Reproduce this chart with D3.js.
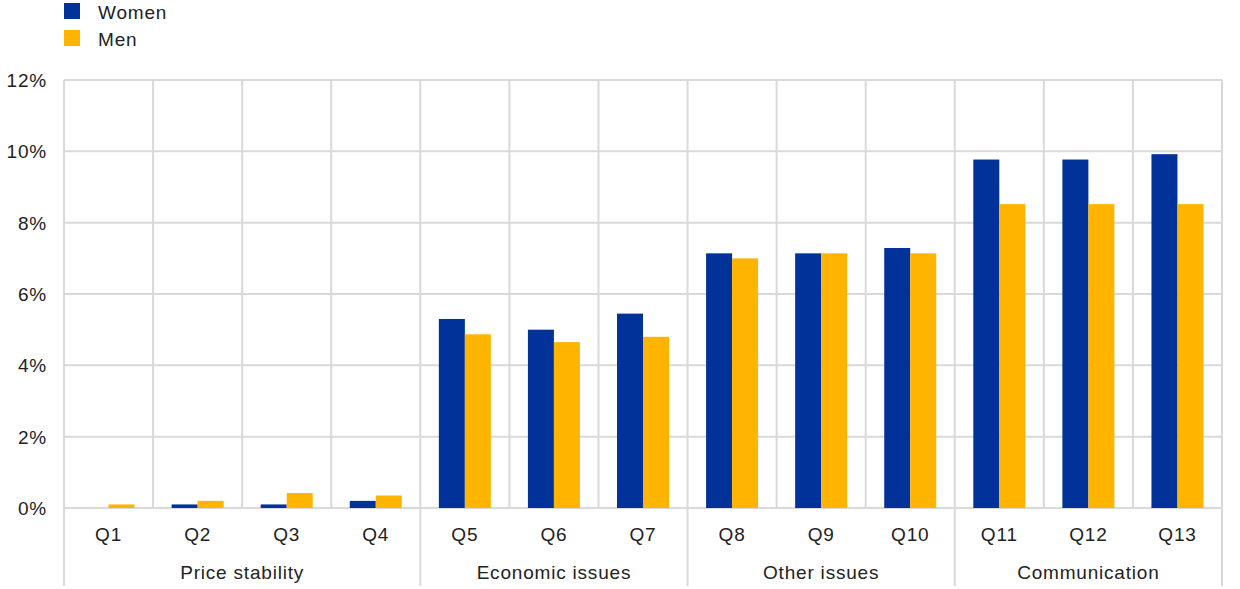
<!DOCTYPE html>
<html><head><meta charset="utf-8">
<script src="https://cdn.jsdelivr.net/npm/d3@7"></script>
<style>body{margin:0;background:#fff}text{font-family:"Liberation Sans",Arial,sans-serif;fill:#222;letter-spacing:0.8px}</style>
</head><body><svg id="c" width="1240" height="589"></svg>
<script>
const categories = ["Q1","Q2","Q3","Q4","Q5","Q6","Q7","Q8","Q9","Q10","Q11","Q12","Q13"];
const groups = [
  {name:"Price stability", from:"Q1", to:"Q4"},
  {name:"Economic issues", from:"Q5", to:"Q7"},
  {name:"Other issues", from:"Q8", to:"Q10"},
  {name:"Communication", from:"Q11", to:"Q13"}
];
const women = [0, 0.1, 0.1, 0.2, 5.3, 5.0, 5.45, 7.14, 7.14, 7.29, 9.77, 9.77, 9.92];
const men   = [0.1, 0.2, 0.42, 0.35, 4.87, 4.65, 4.8, 7.0, 7.14, 7.14, 8.52, 8.52, 8.52];
const yTicks = [0, 2, 4, 6, 8, 10, 12];
const seriesNames = ["Women","Men"];
const colors = ["#003299","#FFB400"];

const svg = d3.select("#c");
const L = 64, R = 1222, T = 80, B = 508;
const x = d3.scaleBand().domain(categories).range([L, R]).paddingInner(0).paddingOuter(0);
const y = d3.scaleLinear().domain([0, 12]).range([B, T]);
const bw = 26;
const grid = "#d9d9d9";
const fs = 19;

svg.append("g").selectAll("line").data(yTicks).join("line")
  .attr("x1", L).attr("x2", R).attr("y1", d => y(d)).attr("y2", d => y(d))
  .attr("stroke", grid).attr("stroke-width", 2);
const vx = categories.map(c => x(c)).concat([R]);
svg.append("g").selectAll("line").data(vx).join("line")
  .attr("x1", d => d).attr("x2", d => d).attr("y1", T).attr("y2", B)
  .attr("stroke", grid).attr("stroke-width", 2);
const sep = groups.map(g => x(g.from)).concat([R]);
svg.append("g").selectAll("line").data(sep).join("line")
  .attr("x1", d => d).attr("x2", d => d).attr("y1", B).attr("y2", 586)
  .attr("stroke", grid).attr("stroke-width", 2);

svg.append("g").selectAll("text").data(yTicks).join("text")
  .attr("x", 47).attr("y", d => y(d) + 7).attr("text-anchor", "end")
  .attr("font-size", fs).text(d => d + "%");

const data = [women, men];
data.forEach((vals, si) => {
  svg.append("g").selectAll("rect").data(categories).join("rect")
    .attr("x", (c) => x(c) + x.bandwidth() / 2 - bw + si * bw)
    .attr("width", bw)
    .attr("y", (c, i) => y(vals[i]))
    .attr("height", (c, i) => B - y(vals[i]))
    .attr("fill", colors[si]);
});

svg.append("g").selectAll("text").data(categories).join("text")
  .attr("x", c => x(c) + x.bandwidth() / 2).attr("y", 541)
  .attr("text-anchor", "middle").attr("font-size", fs).text(c => c);
svg.append("g").selectAll("text").data(groups).join("text")
  .attr("x", g => (x(g.from) + x(g.to) + x.bandwidth()) / 2).attr("y", 579)
  .attr("text-anchor", "middle").attr("font-size", fs).text(g => g.name);

const lg = svg.append("g");
seriesNames.forEach((s, i) => {
  lg.append("rect").attr("x", 64).attr("y", 3 + i * 27).attr("width", 16).attr("height", 16).attr("fill", colors[i]);
  lg.append("text").attr("x", 98).attr("y", 19 + i * 27).attr("font-size", fs).text(s);
});
</script></body></html>
